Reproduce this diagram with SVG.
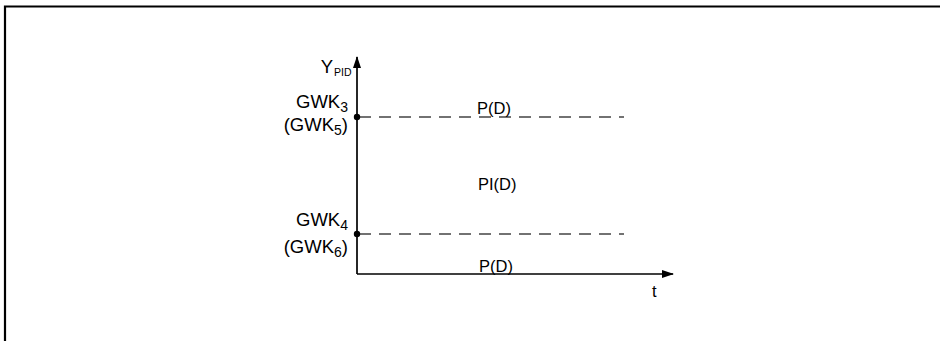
<svg xmlns="http://www.w3.org/2000/svg" width="940" height="341" viewBox="0 0 940 341">
<style>
text{font-family:"Liberation Sans",Arial,sans-serif;fill:#000}
.lbl{font-size:18.5px}
.reg{font-size:16.5px}
.sub{font-size:14px}
.axis{stroke:#000;stroke-width:1.7;fill:none}
.dash{stroke:#444;stroke-width:1.7;stroke-dasharray:12 8;fill:none}
</style>
<defs>
<marker id="arr" markerWidth="12" markerHeight="8" refX="11" refY="4" orient="auto" markerUnits="userSpaceOnUse">
<path d="M0,0 L12,4 L0,8 Z" fill="#000"/>
</marker>
</defs>
<rect width="940" height="341" fill="#fff"/>
<path d="M5,341 V6.5 H940" stroke="#000" stroke-width="2.2" fill="none"/>
<g id="connectors">
<path class="axis" d="M357,274 V57" marker-end="url(#arr)"/>
<path class="axis" d="M357,274 H673" marker-end="url(#arr)"/>
<path class="dash" d="M359,117 H624"/>
<path class="dash" d="M359,234 H624"/>
</g>
<g id="ylabel"><text class="lbl" x="333" y="73" text-anchor="end">Y</text><text x="334" y="76" font-size="10.5">PID</text></g>
<g id="gwk3"><circle cx="357" cy="117" r="3.2"/><text class="lbl" x="348" y="108" text-anchor="end">GWK<tspan class="sub" dy="4">3</tspan></text><text class="lbl" x="348" y="131" text-anchor="end">(GWK<tspan class="sub" dy="4">5</tspan><tspan dy="-4">)</tspan></text></g>
<g id="gwk4"><circle cx="357" cy="234" r="3.2"/><text class="lbl" x="348" y="226" text-anchor="end">GWK<tspan class="sub" dy="4">4</tspan></text><text class="lbl" x="348" y="253" text-anchor="end">(GWK<tspan class="sub" dy="4">6</tspan><tspan dy="-4">)</tspan></text></g>
<g id="pd-top"><text class="reg" x="477" y="114">P(D)</text></g>
<g id="pid"><text class="reg" x="478" y="190">PI(D)</text></g>
<g id="pd-bottom"><text class="reg" x="479" y="272">P(D)</text></g>
<g id="t"><text class="reg" x="652" y="297">t</text></g>
</svg>
